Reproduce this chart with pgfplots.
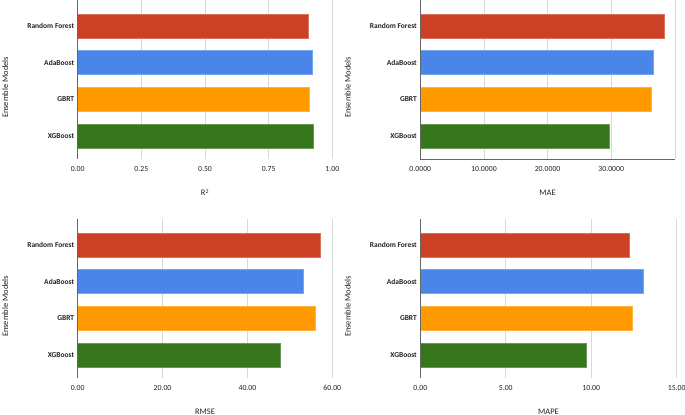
\documentclass[border=0pt]{standalone}
\usepackage{pgfplots}
\pgfplotsset{compat=1.18}
\usepackage{fontspec}
\setmainfont{Carlito}
\definecolor{cRF}{HTML}{CC4125}
\definecolor{cAda}{HTML}{4A86E8}
\definecolor{cGB}{HTML}{FF9900}
\definecolor{cXG}{HTML}{38761D}
\definecolor{gridc}{HTML}{D9D9D9}
\definecolor{axc}{HTML}{666666}
\definecolor{txt}{HTML}{222222}
\pgfplotsset{
  panel/.style={
    xbar, scale only axis, width=254.6bp, height=159bp,
    ymin=-0.62, ymax=3.7, xmin=0,
    bar width=24bp, bar shift=0pt,
    ytick={0,1,2,3}, yticklabels={XGBoost,GBRT,AdaBoost,Random Forest},
    yticklabel style={font=\fontsize{7.5}{9}\selectfont\bfseries, text=txt},
    xticklabel style={font=\fontsize{7.8}{9}\selectfont, text=txt, yshift=-4bp},
    major tick length=0pt,
    axis line style={draw=none},
    xmajorgrids, grid style={gridc, line width=0.6pt},
    clip=false,
  },
  every axis plot/.append style={line width=0.5pt},
}
\newcommand{\panellabels}[2]{%
  \draw[axc, line width=0.8pt] (rel axis cs:0,0) -- (rel axis cs:0,1);
  \node[font=\fontsize{8.5}{10}\selectfont, text=txt, rotate=90, anchor=center] at ([xshift=-72.5bp]rel axis cs:0,0.45) {#1};
  \node[font=\fontsize{8.5}{10}\selectfont, text=txt, anchor=center] at ([yshift=-33.5bp]rel axis cs:0.5,0) {#2};
}
\begin{document}
\begin{tikzpicture}
% R2
\begin{axis}[panel, at={(77.7bp,256bp)}, anchor=south west, xmax=1,
  xtick={0,0.25,0.5,0.75,1}, xticklabels={0.00,0.25,0.50,0.75,1.00}]
\addplot[fill=cRF, draw=cRF!75!white] coordinates {(0.906,3)};
\addplot[fill=cAda, draw=cAda!75!white] coordinates {(0.920,2)};
\addplot[fill=cGB, draw=cGB!75!white] coordinates {(0.911,1)};
\addplot[fill=cXG, draw=cXG!75!white] coordinates {(0.927,0)};
\panellabels{Ensemble Models}{R\textsuperscript{2}}
\end{axis}
% MAE
\begin{axis}[panel, at={(420.3bp,256bp)}, anchor=south west, xmax=40,
  xtick={0,10,20,30,40}, xticklabels={0.0000,10.0000,20.0000,30.0000,}]
\addplot[fill=cRF, draw=cRF!75!white] coordinates {(38.26,3)};
\addplot[fill=cAda, draw=cAda!75!white] coordinates {(36.58,2)};
\addplot[fill=cGB, draw=cGB!75!white] coordinates {(36.33,1)};
\addplot[fill=cXG, draw=cXG!75!white] coordinates {(29.67,0)};
\draw[axc, line width=0.8pt] (rel axis cs:0,0) -- (rel axis cs:1,0);
\panellabels{Ensemble Models}{MAE}
\end{axis}
% RMSE
\begin{axis}[panel, at={(77.7bp,37bp)}, anchor=south west, xmax=60,
  xtick={0,20,40,60}, xticklabels={0.00,20.00,40.00,60.00}]
\addplot[fill=cRF, draw=cRF!75!white] coordinates {(57.25,3)};
\addplot[fill=cAda, draw=cAda!75!white] coordinates {(53.08,2)};
\addplot[fill=cGB, draw=cGB!75!white] coordinates {(56.07,1)};
\addplot[fill=cXG, draw=cXG!75!white] coordinates {(47.76,0)};
\panellabels{Ensemble Models}{RMSE}
\end{axis}
% MAPE
\begin{axis}[panel, at={(420.3bp,37bp)}, anchor=south west, xmax=15, width=256.4bp,
  xtick={0,5,10,15}, xticklabels={0.00,5.00,10.00,15.00}]
\addplot[fill=cRF, draw=cRF!75!white] coordinates {(12.25,3)};
\addplot[fill=cAda, draw=cAda!75!white] coordinates {(13.06,2)};
\addplot[fill=cGB, draw=cGB!75!white] coordinates {(12.40,1)};
\addplot[fill=cXG, draw=cXG!75!white] coordinates {(9.73,0)};
\panellabels{Ensemble Models}{MAPE}
\end{axis}
\pgfresetboundingbox
\path (0,0) rectangle (685bp,415bp);
\end{tikzpicture}
\end{document}
